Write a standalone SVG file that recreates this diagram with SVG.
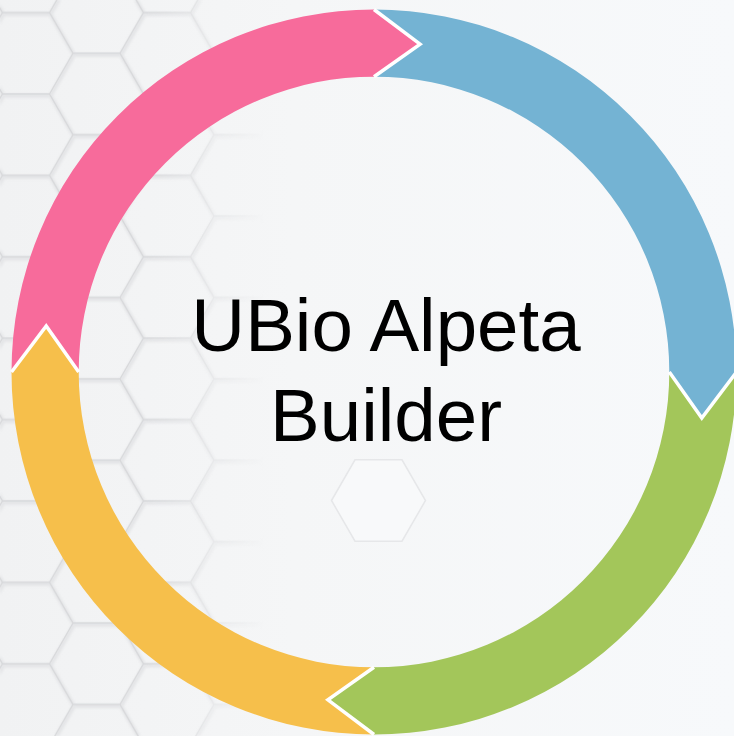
<svg xmlns="http://www.w3.org/2000/svg" width="734" height="736" viewBox="0 0 734 736">
  <style>
    .seg-sep { fill: none; stroke: #ffffff; stroke-width: 3.5; stroke-linejoin: miter; stroke-miterlimit: 10; }
    .title { font-family: "Liberation Sans", Arial, sans-serif; font-size: 74.5px; fill: #000000; text-anchor: middle; }
    .hexline { fill: none; stroke: #d8d9db; stroke-width: 1.3; }
    .hexshadow { fill: none; stroke: #e4e5e7; stroke-width: 4; }
  </style>
  <defs>
    <linearGradient id="bgGrad" x1="0" y1="0" x2="1" y2="0">
      <stop offset="0" stop-color="#f1f2f3"/>
      <stop offset="0.4" stop-color="#f5f6f7"/>
      <stop offset="1" stop-color="#f7f9fb"/>
    </linearGradient>
    <linearGradient id="fadeGrad" gradientUnits="userSpaceOnUse" x1="0" y1="0" x2="734" y2="0">
      <stop offset="0" stop-color="#fff" stop-opacity="1"/>
      <stop offset="0.2" stop-color="#fff" stop-opacity="1"/>
      <stop offset="0.36" stop-color="#fff" stop-opacity="0"/>
      <stop offset="1" stop-color="#fff" stop-opacity="0"/>
    </linearGradient>
    <mask id="fadeMask" maskUnits="userSpaceOnUse" x="0" y="0" width="734" height="736">
      <rect x="0" y="0" width="734" height="736" fill="url(#fadeGrad)"/>
    </mask>
    <filter id="soft" x="-10%" y="-10%" width="120%" height="120%">
      <feGaussianBlur stdDeviation="1.2"/>
    </filter>
    <pattern id="hexShadowPat" patternUnits="userSpaceOnUse" x="27" y="55" width="141" height="81.4">
      <path class="hexshadow" d="M-47,0 L-23.5,-40.7 L23.5,-40.7 L47,0 L23.5,40.7 L-23.5,40.7 Z M94,0 L117.5,-40.7 L164.5,-40.7 L188,0 L164.5,40.7 L117.5,40.7 Z M-47,81.4 L-23.5,40.7 L23.5,40.7 L47,81.4 L23.5,122.1 L-23.5,122.1 Z M94,81.4 L117.5,40.7 L164.5,40.7 L188,81.4 L164.5,122.1 L117.5,122.1 Z M23.5,40.7 L47,0 L94,0 L117.5,40.7 L94,81.4 L47,81.4 Z"/>
    </pattern>
    <pattern id="hexPat" patternUnits="userSpaceOnUse" x="26" y="53.3" width="141" height="81.4">
      <path class="hexline" d="M-47,0 L-23.5,-40.7 L23.5,-40.7 L47,0 L23.5,40.7 L-23.5,40.7 Z M94,0 L117.5,-40.7 L164.5,-40.7 L188,0 L164.5,40.7 L117.5,40.7 Z M-47,81.4 L-23.5,40.7 L23.5,40.7 L47,81.4 L23.5,122.1 L-23.5,122.1 Z M94,81.4 L117.5,40.7 L164.5,40.7 L188,81.4 L164.5,122.1 L117.5,122.1 Z M23.5,40.7 L47,0 L94,0 L117.5,40.7 L94,81.4 L47,81.4 Z"/>
    </pattern>
  </defs>

  <g id="background">
    <rect x="0" y="0" width="734" height="736" fill="url(#bgGrad)"/>
    <g mask="url(#fadeMask)">
      <rect x="0" y="0" width="734" height="736" fill="url(#hexShadowPat)" filter="url(#soft)"/>
      <rect x="0" y="0" width="734" height="736" fill="url(#hexPat)"/>
    </g>
    <path d="M331.5,500.5 L355,459.8 L402,459.8 L425.5,500.5 L402,541.2 L355,541.2 Z" fill="#f8f9fa" stroke="#e6e7e9" stroke-width="1.5"/>
  </g>

  <g id="node-blue">
    <path fill="#74b3d3" d="M374,9.5 A362.5,362.5 0 0 1 736.5,372 L701.78,418.07 L669.3,372 A295.3,295.3 0 0 0 374,76.7 L420.07,44.22 Z"/>
  </g>
  <g id="node-green">
    <path fill="#a3c65a" d="M736.5,372 A362.5,362.5 0 0 1 374,734.5 L327.93,699.78 L374,667.3 A295.3,295.3 0 0 0 669.3,372 L701.78,418.07 Z"/>
  </g>
  <g id="node-yellow">
    <path fill="#f6bf4b" d="M374,734.5 A362.5,362.5 0 0 1 11.5,372 L46.22,325.93 L78.7,372 A295.3,295.3 0 0 0 374,667.3 L327.93,699.78 Z"/>
  </g>
  <g id="node-pink">
    <path fill="#f76b9b" d="M11.5,372 A362.5,362.5 0 0 1 374,9.5 L420.07,44.22 L374,76.7 A295.3,295.3 0 0 0 78.7,372 L46.22,325.93 Z"/>
  </g>

  <g id="connectors">
    <polyline class="seg-sep" points="374,9.5 420.07,44.22 374,76.7"/>
    <polyline class="seg-sep" points="736.5,372 701.78,418.07 669.3,372"/>
    <polyline class="seg-sep" points="374,734.5 327.93,699.78 374,667.3"/>
    <polyline class="seg-sep" points="11.5,372 46.22,325.93 78.7,372"/>
  </g>

  <g id="node-title">
    <text class="title" x="386" y="351">UBio Alpeta</text>
    <text class="title" x="386" y="441">Builder</text>
  </g>
</svg>
